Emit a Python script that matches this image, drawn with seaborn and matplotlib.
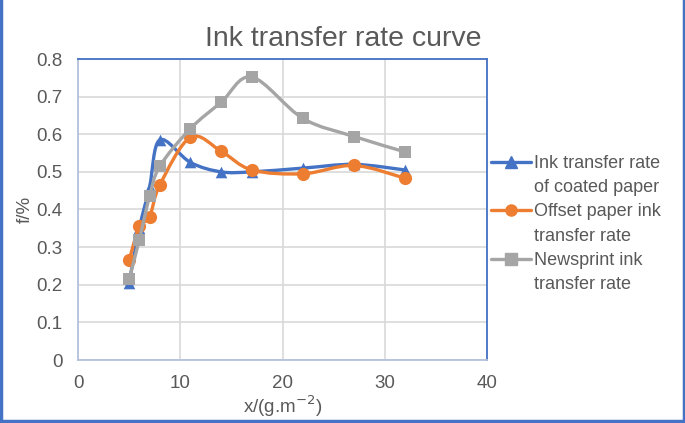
import numpy as np
import pandas as pd
import matplotlib
matplotlib.use("Agg")
import matplotlib.pyplot as plt
import seaborn as sns
from matplotlib.path import Path
from matplotlib.patches import PathPatch
from matplotlib.lines import Line2D

# ----------------------------
# Data
# ----------------------------
grammage = [5, 6, 7, 8, 11, 14, 17, 22, 27, 32]
coated = [0.205, 0.35, 0.46, 0.585, 0.525, 0.50, 0.50, 0.51, 0.52, 0.505]
offset = [0.265, 0.355, 0.38, 0.465, 0.592, 0.555, 0.505, 0.495, 0.517, 0.483]
newsprint = [0.215, 0.32, 0.435, 0.515, 0.615, 0.685, 0.752, 0.642, 0.594, 0.553]

series_names = ["Ink transfer rate\nof coated paper",
                "Offset paper ink\ntransfer rate",
                "Newsprint ink\ntransfer rate"]
x_ticks = [0, 10, 20, 30, 40]
y_ticks = [0, 0.1, 0.2, 0.3, 0.4, 0.5, 0.6, 0.7, 0.8]

df = pd.DataFrame({
    "x": grammage * 3,
    "f": coated + offset + newsprint,
    "series": sum([[n] * len(grammage) for n in series_names], []),
})

colors = ["#4472C4", "#ED7D31", "#A5A5A5"]
markers = ["^", "o", "s"]
msizes = [70, 90, 80]
text_col = "#595959"

sns.set_style("white")
plt.rcParams["font.family"] = ["Liberation Sans", "DejaVu Sans"]


def smooth_path(xs, ys):
    # Excel-style smoothed line: cubic Bezier segments through the points
    pts = np.column_stack([xs, ys]).astype(float)
    n = len(pts)
    verts = [pts[0]]
    codes = [Path.MOVETO]
    for i in range(n - 1):
        p0 = pts[i - 1] if i > 0 else pts[i]
        p1 = pts[i]
        p2 = pts[i + 1]
        p3 = pts[i + 2] if i + 2 < n else pts[i + 1]
        c1 = p1 + (p2 - p0) / 6.0
        c2 = p2 - (p3 - p1) / 6.0
        verts += [c1, c2, p2]
        codes += [Path.CURVE4] * 3
    return Path(verts, codes)


fig = plt.figure(figsize=(6.85, 4.23), dpi=100)
ax = fig.add_axes([78 / 685, 63 / 423, 409 / 685, 301 / 423])

for i, name in enumerate(series_names):
    sub = df[df["series"] == name]
    ax.add_patch(PathPatch(smooth_path(sub["x"], sub["f"]), facecolor="none",
                           edgecolor=colors[i], lw=2.4, zorder=3 + i * 2))
    sns.scatterplot(data=sub, x="x", y="f", marker=markers[i], color=colors[i],
                    s=msizes[i], edgecolor=colors[i], linewidth=0, ax=ax,
                    zorder=4 + i * 2, legend=False)

ax.set_xlim(0, 40)
ax.set_ylim(0, 0.8)
ax.set_xticks(x_ticks)
ax.set_yticks(y_ticks)
ax.set_yticklabels([f"{v:g}" for v in y_ticks])
ax.grid(True, color="#D9D9D9", lw=1.2)
ax.set_axisbelow(True)
ax.tick_params(length=0, labelsize=13.5, labelcolor=text_col)
ax.tick_params(axis="y", pad=11)
ax.tick_params(axis="x", pad=11)

for side in ["top", "right"]:
    ax.spines[side].set_color("#4472C4")
    ax.spines[side].set_linewidth(1.3)
for side in ["left", "bottom"]:
    ax.spines[side].set_color("#B4C2DC")
    ax.spines[side].set_linewidth(1.3)

ax.set_xlabel("x/(g.m$^{-2}$)", fontsize=13.5, color=text_col, labelpad=1)
ax.set_ylabel("f/%", fontsize=13.5, color=text_col, labelpad=2)

fig.text(343 / 685, 1 - 39 / 423, "Ink transfer rate curve", fontsize=20.5,
         color=text_col, ha="center", va="center")

# legend: handle on the first line of each two-line label
handles, labels = [], []
for c, m, name in zip(colors, markers, series_names):
    first, second = name.split("\n")
    handles += [Line2D([], [], color=c, lw=2.4, marker=m, markersize=8),
                Line2D([], [], lw=0)]
    labels += [first, second]
leg = fig.legend(handles, labels, loc="upper left",
                 bbox_to_anchor=(482 / 685, 1 - 146 / 423), frameon=False,
                 fontsize=13, labelcolor=text_col, handlelength=2.2,
                 handletextpad=0.2, labelspacing=0.4, borderpad=0)

# outer chart border
border_kw = dict(color="#4472C4", lw=2.5, transform=fig.transFigure)
fig.add_artist(Line2D([0.002, 0.002], [0, 1], **border_kw))
fig.add_artist(Line2D([0.998, 0.998], [0, 1], **border_kw))
fig.add_artist(Line2D([0, 1], [0.004, 0.004], **border_kw))

fig.savefig("out.png", dpi=100)
